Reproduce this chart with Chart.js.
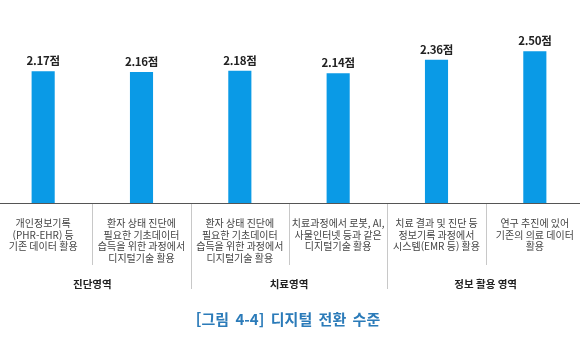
<!DOCTYPE html>
<html lang="ko">
<head>
<meta charset="utf-8">
<script src="https://cdn.jsdelivr.net/npm/chart.js@4"></script>
<style>
  html, body { margin: 0; padding: 0; background: #fff; overflow: hidden; }
  #wrap { position: absolute; left: -6px; top: 0; width: 590px; height: 360px; }
</style>
</head>
<body>
<div id="wrap"><canvas id="chart"></canvas></div>
<script>
// ── Data ──
const categories = [
  ["개인정보기록", "(PHR-EHR) 등", "기존 데이터 활용"],
  ["환자 상태 진단에", "필요한 기초데이터", "습득을 위한 과정에서", "디지털기술 활용"],
  ["환자 상태 진단에", "필요한 기초데이터", "습득을 위한 과정에서", "디지털기술 활용"],
  ["치료과정에서 로봇, AI,", "사물인터넷 등과 같은", "디지털기술 활용"],
  ["치료 결과 및 진단 등", "정보기록 과정에서", "시스템(EMR 등) 활용"],
  ["연구 추진에 있어", "기존의 의료 데이터", "활용"],
];
const scores = [2.17, 2.16, 2.18, 2.14, 2.36, 2.50];
const groupNames = ["진단영역", "치료영역", "정보 활용 영역"];
const groupSizes = [2, 2, 2];
const figureTitle = "[그림 4-4] 디지털 전환 수준";

const FONT = "'Noto Sans CJK KR', 'Noto Sans', sans-serif";
const AXIS_Y_PAD = 157;

// ── Labels, separators and caption drawn after the bars ──
const annotate = {
  id: "annotate",
  afterDatasetsDraw(chart) {
    const { ctx, chartArea, scales } = chart;
    const x = scales.x;
    const base = chartArea.bottom;
    const half = (x.getPixelForValue(1) - x.getPixelForValue(0)) / 2;

    ctx.save();

    // value labels
    ctx.fillStyle = "#222";
    ctx.font = "bold 11.5px " + FONT;
    ctx.textAlign = "center";
    ctx.textBaseline = "alphabetic";
    ctx.letterSpacing = "-0.3px";
    chart.getDatasetMeta(0).data.forEach((bar, i) => {
      ctx.fillText(scores[i].toFixed(2) + "점", bar.x, bar.y - 6);
    });
    ctx.letterSpacing = "0px";

    // separators
    ctx.strokeStyle = "#c8c8c8";
    ctx.lineWidth = 1;
    let idx = 0;
    const groupEnds = [];
    groupSizes.forEach(n => { idx += n; groupEnds.push(idx); });
    for (let i = 1; i < categories.length; i++) {
      const sx = Math.round(x.getPixelForValue(i) - half) + 0.5;
      const long = groupEnds.includes(i);
      ctx.beginPath();
      ctx.moveTo(sx, base);
      ctx.lineTo(sx, base + (long ? 86 : 62));
      ctx.stroke();
    }

    // axis line
    ctx.strokeStyle = "#555";
    ctx.beginPath();
    ctx.moveTo(chartArea.left, base + 0.5);
    ctx.lineTo(chartArea.right, base + 0.5);
    ctx.stroke();

    // category labels
    ctx.fillStyle = "#444";
    ctx.font = "10px " + FONT;
    ctx.textBaseline = "middle";
    categories.forEach((lines, i) => {
      const cx = x.getPixelForValue(i);
      lines.forEach((line, j) => {
        ctx.fillText(line, cx, base + 20 + j * 11.8);
      });
    });

    // group labels
    ctx.fillStyle = "#222";
    ctx.font = "bold 10.5px " + FONT;
    let start = 0;
    groupSizes.forEach((n, g) => {
      const gx = (x.getPixelForValue(start) + x.getPixelForValue(start + n - 1)) / 2;
      ctx.fillText(groupNames[g], gx, base + 81);
      start += n;
    });

    // figure caption
    ctx.fillStyle = "#2b7bb9";
    ctx.font = "bold 15px " + FONT;
    ctx.wordSpacing = "3px";
    ctx.fillText(figureTitle, 294, 319);

    ctx.restore();
  }
};

new Chart(document.getElementById("chart"), {
  type: "bar",
  data: {
    labels: categories,
    datasets: [{
      data: scores,
      backgroundColor: "#0a9ae6",
      borderWidth: 0,
      barPercentage: 0.235,
      categoryPercentage: 1,
    }],
  },
  options: {
    responsive: true,
    maintainAspectRatio: false,
    animation: false,
    layout: { padding: { top: 21, bottom: AXIS_Y_PAD, left: 0, right: 0 } },
    plugins: { legend: { display: false }, tooltip: { enabled: false } },
    scales: {
      x: { display: false },
      y: { display: false, min: 0, max: 3 },
    },
  },
  plugins: [annotate],
});
</script>
</body>
</html>
